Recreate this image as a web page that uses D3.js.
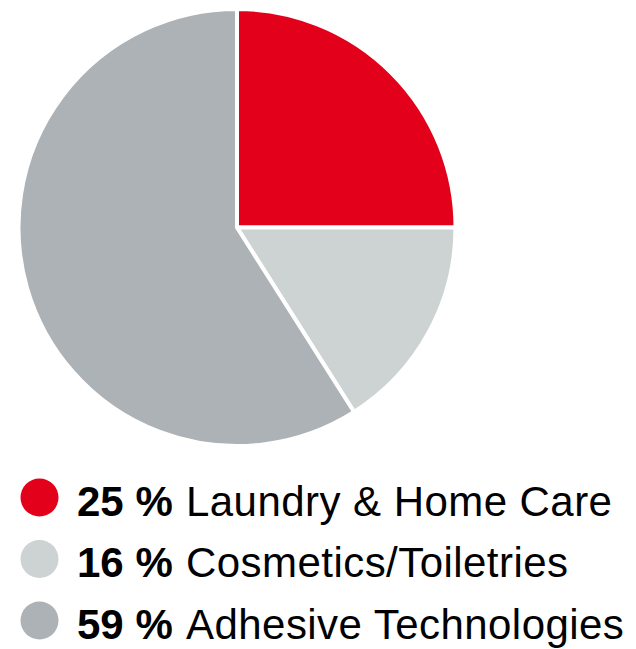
<!DOCTYPE html>
<html>
<head>
<meta charset="utf-8">
<script src="https://cdn.jsdelivr.net/npm/d3@7"></script>
<style>
  body { margin: 0; background: #fff; }
  svg { display: block; }
</style>
</head>
<body>
<div id="chart"></div>
<script>
// segment data
let segments = ["Laundry & Home Care", "Cosmetics/Toiletries", "Adhesive Technologies"];
let shares = [25, 16, 59];
let colors = ["#e2001a", "#cdd2d2", "#adb2b6"];

let width = 636, height = 649;
let cx = 237, cy = 227.5, radius = 218.5;

let svg = d3.select("#chart")
  .append("svg")
  .attr("width", width)
  .attr("height", height);

let pie = d3.pie().sort(null).value(d => d);
let arc = d3.arc().innerRadius(0).outerRadius(radius);

// pie slices
svg.append("g")
  .attr("transform", "translate(" + cx + "," + cy + ")")
  .selectAll("path")
  .data(pie(shares))
  .enter().append("path")
  .attr("d", arc)
  .attr("fill", (d, i) => colors[i])
  .attr("stroke", "#fff")
  .attr("stroke-width", 4)
  .attr("stroke-linejoin", "miter");

// legend
let rowY = d3.scalePoint()
  .domain(segments)
  .range([497.5, 620.5]);

let legend = svg.selectAll(".legend")
  .data(segments)
  .enter().append("g")
  .attr("class", "legend")
  .attr("transform", d => "translate(0," + rowY(d) + ")");

legend.append("circle")
  .attr("cx", 39.5)
  .attr("cy", 0)
  .attr("r", 19)
  .attr("fill", (d, i) => colors[i]);

legend.append("text")
  .attr("x", 77)
  .attr("y", 18)
  .style("font-family", "'Liberation Sans', Arial, sans-serif")
  .style("font-size", "42px")
  .style("font-weight", "bold")
  .attr("fill", "#000")
  .text((d, i) => shares[i] + " %");

legend.append("text")
  .attr("x", 186)
  .attr("y", 18)
  .style("font-family", "'Liberation Sans', Arial, sans-serif")
  .style("font-size", "42px")
  .style("letter-spacing", "0.45px")
  .attr("fill", "#000")
  .text(d => d);
</script>
</body>
</html>
